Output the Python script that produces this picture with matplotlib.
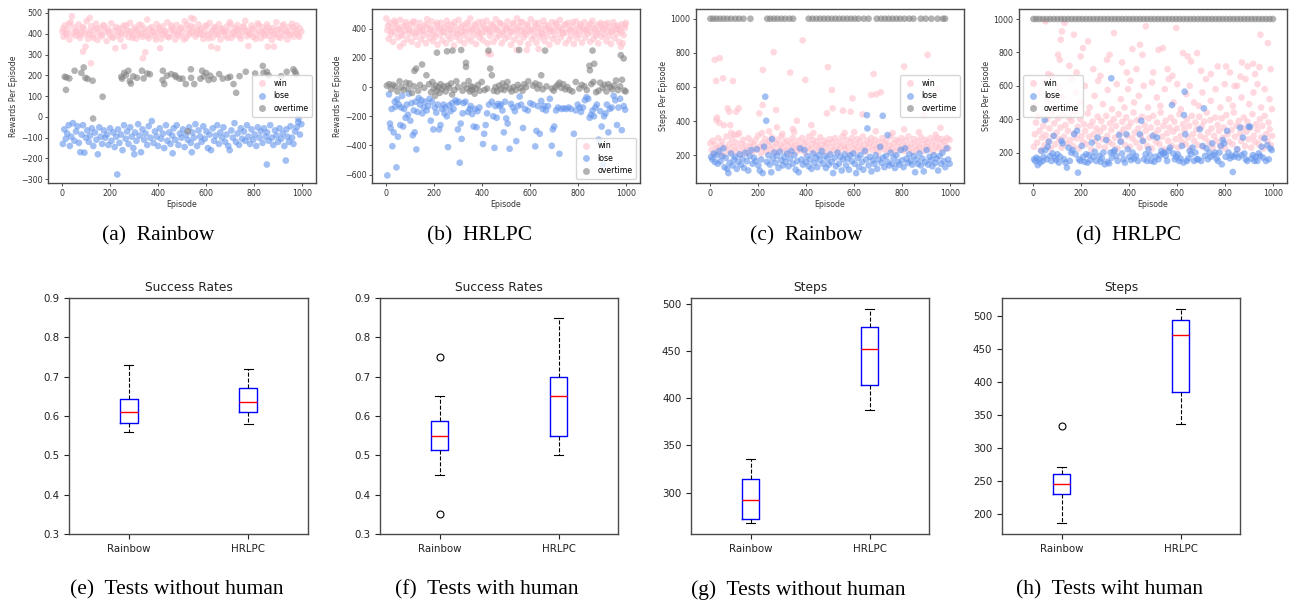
import matplotlib
matplotlib.use("Agg")
import matplotlib.pyplot as plt
from matplotlib.lines import Line2D

# ---------------- data: scatter panels (episode, value) ----------------
a_win = [(0,410),(5,385),(11,440),(18,395),(22,420),(30,372),(35,455),(43,400),(49,430),(55,390),(62,415),(68,445),(74,380),(81,405),(88,425),(93,398),(101,460),(107,375),(113,412),(120,436),(126,392),(133,418),(140,448),(146,370),(152,402),(158,428),(165,388),(171,442),(178,410),(185,365),(190,422),(197,396),(204,450),(211,380),(217,414),(224,433),(230,390),(237,405),(243,372),(250,426),(256,440),(262,398),(269,418),(276,384),(282,452),(289,406),(295,393),(301,430),(308,376),(315,415),(321,444),(328,400),(334,385),(341,423),(347,409),(354,468),(360,378),(367,395),(373,432),(380,414),(387,388),(393,447),(399,402),(406,420),(412,375),(419,436),(425,410),(432,392),(438,455),(445,383),(451,418),(458,428),(464,400),(471,372),(477,442),(484,412),(490,390),(497,430),(503,405),(510,460),(516,380),(523,422),(529,395),(536,438),(542,410),(549,470),(555,386),(562,415),(568,445),(575,398),(581,425),(588,375),(594,408),(601,436),(607,392),(614,452),(620,404),(627,382),(633,428),(640,415),(646,398),(653,446),(659,372),(666,420),(672,408),(679,390),(685,435),(692,412),(698,456),(705,380),(711,400),(718,428),(724,394),(731,442),(737,418),(744,376),(750,408),(757,432),(763,462),(770,388),(776,415),(783,400),(789,440),(796,385),(802,422),(809,396),(815,450),(822,410),(828,378),(835,432),(841,402),(848,418),(854,445),(861,390),(867,412),(874,370),(880,428),(887,398),(893,455),(900,384),(906,420),(913,406),(919,438),(926,392),(932,415),(939,372),(945,432),(952,400),(958,448),(965,386),(971,418),(978,440),(984,395),(991,425),(997,410),
         (3,425),(15,402),(27,448),(40,484),(58,412),(71,395),(85,432),(97,338),(86,314),(110,400),(114,476),(119,258),(130,380),(143,425),(161,396),(175,436),(193,412),(207,385),(221,330),(234,425),(247,400),(258,338),(266,440),(279,412),(292,380),(305,420),(318,396),(331,440),(336,282),(346,311),(350,390),(363,425),(377,408),(390,372),(403,430),(408,330),(416,398),(428,412),(441,385),(455,440),(468,415),(481,396),(494,425),(507,372),(520,445),(533,405),(537,476),(546,430),(559,400),(572,420),(585,395),(598,440),(611,378),(621,338),(624,415),(637,432),(647,330),(650,395),(663,425),(676,410),(689,380),(702,445),(715,405),(728,420),(741,390),(754,435),(767,412),(776,341),(780,398),(793,425),(806,375),(819,442),(832,408),(845,390),(857,338),(858,430),(871,415),(883,338),(884,395),(897,420),(910,380),(923,445),(936,410),(949,395),(962,430),(975,405),(988,385)]

a_lose = [(2,-130),(8,-60),(14,-105),(20,-80),(26,-40),(31,-140),(37,-95),(44,-30),(50,-115),(57,-70),(63,-45),(69,-125),(75,-170),(80,-85),(86,-40),(92,-172),(98,-100),(104,-65),(110,-120),(116,-90),(123,-55),(129,-140),(136,-75),(142,-110),(148,-180),(154,-50),(160,-95),(166,-130),(173,-65),(179,-100),(186,-85),(192,-135),(199,-55),(205,-115),(212,-75),(218,-145),(225,-95),(229,-277),(232,-60),(238,-125),(245,-85),(251,-160),(257,-40),(264,-105),(270,-70),(276,-130),(283,-50),(289,-95),(296,-150),(300,-180),(303,-75),(309,-115),(316,-35),(322,-90),(328,-170),(334,-60),(341,-110),(347,-80),(354,-135),(360,-45),(367,-100),(373,-20),(380,-125),(386,-70),(393,-95),(399,-140),(406,-55),(412,-105),(419,-80),(425,-150),(432,-40),(438,-115),(445,-75),(451,-130),(458,-90),(460,-175),(464,-55),(471,-110),(477,-40),(484,-135),(490,-80),(497,-100),(503,-60),(510,-145),(516,-85),(523,-110),(529,-50),(536,-125),(540,-170),(542,-75),(549,-100),(555,-35),(562,-140),(568,-65),(575,-95),(581,-120),(588,-45),(594,-105),(601,-70),(607,-150),(614,-85),(620,-160),(627,-55),(633,-115),(640,-90),(646,-40),(653,-130),(659,-75),(666,-100),(672,-50),(679,-120),(685,-85),(692,-140),(698,-160),(705,-65),(711,-100),(718,-30),(724,-120),(731,-80),(737,-135),(744,-55),(750,-105),(757,-70),(763,-115),(770,-40),(776,-95),(783,-130),(789,-60),(796,-110),(802,-85),(809,-140),(815,-50),(822,-100),(828,-70),(835,-125),(841,-55),(848,-95),(853,-229),(854,-75),(861,-115),(867,-40),(874,-100),(880,-135),(887,-65),(893,-90),(900,-120),(906,-55),(913,-105),(919,-80),(926,-140),(932,-210),(934,-60),(939,-95),(945,-120),(952,-45),(958,-100),(964,-130),(971,-70),(978,-50),(984,-25),(985,-8),(991,-85),(997,-35)]

a_over = [(10,193),(17,190),(29,185),(15,130),(51,222),(79,212),(89,238),(96,188),(105,183),(126,174),(128,-8),(168,97),(246,193),(249,184),(258,212),(265,200),(275,222),(281,172),(286,160),(296,195),(311,188),(332,222),(339,185),(354,209),(365,205),(419,222),(418,177),(425,158),(436,198),(454,206),(470,200),(474,192),(488,184),(501,184),(515,158),(523,-69),(536,229),(537,188),(550,158),(576,184),(583,222),(590,195),(600,211),(610,177),(617,198),(631,182),(654,206),(669,184),(690,188),(700,193),(714,158),(725,116),(739,196),(765,217),(804,209),(836,245),(839,212),(853,217),(860,200),(912,196),(936,217),(964,229),(970,218),(975,206)]

b_win = [(0,470),(4,390),(9,330),(14,440),(19,360),(24,405),(28,310),(33,455),(38,375),(43,420),(48,340),(53,395),(56,277),(58,460),(63,350),(68,415),(72,300),(77,385),(82,445),(87,330),(92,400),(97,365),(102,430),(106,310),(111,380),(116,450),(121,345),(126,410),(131,290),(136,375),(140,440),(145,325),(150,395),(155,355),(160,420),(165,300),(170,465),(175,370),(180,335),(184,405),(189,450),(194,315),(199,385),(204,345),(209,425),(214,290),(218,400),(223,360),(228,440),(233,320),(238,380),(243,410),(248,300),(252,455),(257,350),(262,395),(267,330),(272,430),(277,370),(282,285),(286,415),(291,345),(296,390),(301,460),(306,320),(311,375),(316,425),(320,355),(325,300),(330,400),(335,440),(340,335),(345,380),(350,470),(354,315),(359,395),(364,355),(369,430),(374,295),(379,385),(384,445),(388,340),(393,405),(398,365),(403,320),(408,420),(413,380),(418,455),(422,300),(424,231),(427,395),(432,350),(435,224),(437,430),(442,375),(447,310),(452,410),(456,465),(461,340),(466,390),(471,355),(476,435),(481,300),(486,380),(490,420),(495,330),(500,395),(505,450),(510,345),(515,405),(520,290),(524,375),(529,440),(534,325),(539,390),(544,254),(545,470),(549,355),(554,415),(558,305),(563,385),(568,445),(573,340),(578,400),(583,360),(586,254),(588,430),(592,295),(597,380),(602,465),(607,330),(612,395),(617,350),(622,425),(626,305),(631,375),(635,261),(636,440),(641,340),(646,400),(651,360),(656,455),(660,315),(665,390),(670,350),(675,420),(680,290),(685,380),(690,445),(694,330),(699,400),(704,355),(709,430),(714,310),(719,385),(724,460),(728,340),(733,395),(738,365),(743,425),(748,300),(753,375),(758,440),(762,325),(767,390),(772,350),(777,415),(782,295),(787,380),(792,450),(796,335),(801,405),(806,360),(811,430),(816,305),(821,385),(826,445),(830,340),(835,400),(840,365),(845,420),(850,310),(855,375),(860,455),(864,330),(869,395),(874,350),(879,425),(884,300),(889,385),(894,440),(898,345),(903,405),(908,360),(913,430),(918,315),(923,390),(928,350),(932,415),(937,295),(942,380),(947,445),(952,335),(957,400),(962,365),(966,420),(971,310),(976,390),(978,277),(981,430),(986,300),(990,355),(995,405),(999,440),
         (7,420),(21,380),(36,440),(50,400),(66,365),(80,425),(95,390),(110,445),(124,370),(139,410),(153,385),(168,430),(182,395),(197,360),(211,440),(226,400),(240,375),(255,425),(269,390),(284,445),(298,365),(313,410),(328,380),(342,430),(357,395),(371,420),(386,370),(400,445),(415,400),(430,385),(444,425),(459,395),(473,440),(488,365),(502,410),(517,380),(531,430),(546,400),(560,445),(575,375),(590,420),(604,390),(619,440),(633,405),(648,370),(662,425),(677,400),(691,385),(706,440),(720,410),(735,375),(749,430),(764,395),(778,445),(793,370),(807,415),(822,400),(836,385),(851,435),(865,405),(880,370),(894,425),(909,395),(923,440),(938,380),(952,420),(967,400),(981,375),(996,425)]

b_lose = [(4,-605),(11,-50),(15,-250),(18,-280),(22,-150),(25,-405),(30,-310),(35,-100),(38,-135),(42,-550),(45,-85),(48,-340),(52,-120),(58,-260),(62,-140),(66,-60),(70,-270),(74,-150),(80,-210),(85,-120),(90,-190),(94,-45),(100,-230),(105,-110),(110,-330),(114,-160),(118,-310),(122,-100),(125,-427),(130,-170),(135,-75),(140,-120),(146,-90),(150,-180),(156,-140),(162,-100),(168,-160),(174,-130),(180,-80),(185,-230),(190,-100),(196,-290),(202,-140),(208,-175),(214,-120),(220,-290),(226,-260),(232,-150),(238,-120),(242,-180),(246,-140),(252,-200),(257,-411),(262,-125),(268,-165),(274,-110),(280,-150),(288,-90),(294,-105),(298,-290),(302,-100),(306,-518),(310,-250),(314,-355),(318,-180),(322,-110),(330,-100),(340,-170),(348,-150),(352,-130),(358,-185),(364,-270),(370,-150),(376,-275),(380,-165),(388,-140),(403,-390),(408,-320),(414,-260),(420,-180),(428,-120),(440,-100),(446,-200),(451,-416),(455,-130),(460,-210),(466,-115),(472,-130),(478,-120),(484,-160),(490,-310),(495,-100),(500,-215),(506,-250),(514,-423),(520,-115),(528,-140),(536,-165),(542,-370),(548,-130),(556,-65),(562,-120),(570,-280),(578,-150),(590,-160),(600,-110),(612,-120),(621,-406),(626,-300),(632,-130),(640,-320),(646,-95),(652,-150),(658,-130),(666,-160),(674,-130),(682,-80),(690,-402),(694,-290),(700,-270),(708,-160),(716,-140),(722,-457),(730,-150),(740,-145),(750,-150),(760,-140),(770,-150),(782,-320),(790,-160),(798,-120),(806,-140),(812,-170),(820,-140),(828,-90),(835,-70),(842,-80),(848,-210),(854,-190),(860,-160),(866,-200),(872,-140),(878,-120),(886,-360),(892,-165),(898,-270),(903,-531),(908,-200),(914,-180),(920,-120),(926,-310),(932,-150),(940,-140),(948,-60),(955,-90),(962,-260),(968,-140),(975,-80),(982,-295),(990,-130),(996,-155)]

b_over = [(2,10),(12,20),(20,-15),(28,15),(37,5),(46,-30),(55,40),(63,0),(72,-20),(82,30),(90,-10),(97,25),(107,-40),(115,5),(133,-25),(140,15),(158,-5),(178,20),(186,-35),(192,35),(198,-10),(203,-60),(206,10),(210,-25),(218,0),(222,-40),(226,20),(232,-15),(240,5),(247,-30),(256,10),(262,-5),(270,25),(284,-20),(292,40),(299,0),(318,-25),(324,15),(338,-10),(343,41),(348,-30),(352,5),(357,-20),(362,0),(368,-45),(374,-10),(382,15),(390,-25),(398,35),(410,-20),(420,-10),(448,-25),(455,0),(463,-30),(470,10),(478,-15),(485,25),(492,-20),(498,5),(505,35),(515,-10),(522,-30),(530,0),(540,-20),(548,15),(560,-5),(568,-25),(575,20),(583,0),(592,40),(612,10),(622,25),(630,-10),(638,15),(652,-15),(668,5),(690,-10),(698,-25),(706,0),(714,15),(722,30),(730,-5),(738,20),(746,-15),(755,0),(764,-20),(776,-30),(790,35),(805,-10),(815,15),(826,5),(836,-20),(855,20),(875,-35),(885,-25),(892,30),(902,-5),(910,15),(918,-30),(926,20),(934,0),(942,-15),(950,10),(958,45),(966,-20),(975,5),(983,50),(993,-23),(998,-30),
          (117,111),(124,127),(149,155),(167,81),(211,236),(253,245),(276,250),(312,254),(332,166),(332,139),(274,-50),(426,250),(433,127),(440,81),(554,254),(646,81),(662,250),(860,250),(847,146),(849,115),(867,160),(978,219),(990,196),(864,35)]

c_win = [(0,270),(5,230),(10,285),(15,205),(21,260),(27,240),(33,300),(38,215),(44,255),(50,280),(56,200),(61,245),(67,310),(73,230),(79,265),(84,215),(90,295),(96,250),(102,225),(107,275),(113,320),(119,240),(125,205),(130,265),(136,290),(142,230),(148,255),(153,210),(159,300),(165,245),(171,275),(176,220),(182,260),(188,290),(194,235),(199,315),(205,250),(211,210),(217,270),(222,240),(228,295),(234,220),(240,260),(245,280),(251,235),(257,305),(263,250),(268,215),(274,270),(280,290),(286,230),(291,260),(297,310),(303,245),(309,275),(314,225),(320,285),(326,250),(332,210),(337,270),(343,300),(349,240),(355,260),(360,220),(366,285),(372,250),(378,230),(383,300),(389,265),(395,215),(401,280),(406,245),(412,310),(418,235),(424,265),(429,290),(435,220),(441,255),(447,280),(452,240),(458,305),(464,260),(470,225),(475,285),(481,250),(487,270),(493,215),(498,295),(504,245),(510,275),(516,230),(521,300),(527,255),(533,220),(539,280),(544,245),(550,310),(556,260),(562,235),(567,290),(573,250),(579,215),(585,275),(590,300),(596,240),(602,265),(608,225),(613,295),(619,250),(625,280),(631,235),(636,310),(642,260),(648,220),(654,285),(659,245),(665,270),(671,300),(677,230),(682,260),(688,290),(694,240),(700,215),(705,275),(711,250),(717,300),(723,235),(728,265),(734,285),(740,225),(746,255),(751,310),(757,240),(763,270),(769,220),(774,290),(780,250),(786,280),(792,235),(797,300),(803,260),(809,225),(815,285),(820,250),(826,310),(832,240),(838,270),(843,220),(849,295),(855,255),(861,230),(866,280),(872,245),(878,305),(884,265),(889,225),(895,290),(901,250),(907,275),(912,235),(918,300),(924,260),(930,220),(935,285),(941,250),(947,300),(953,240),(958,270),(964,295),(970,230),(976,280),(981,255),(987,300),(993,240),(998,290),
         (18,759),(24,635),(39,769),(53,651),(94,635),(25,406),(28,420),(37,390),(56,376),(72,475),(79,455),(83,376),(108,455),(118,475),(87,331),(204,445),(218,494),(219,700),(264,804),(274,465),(278,363),(333,684),(344,353),(361,402),(385,873),(396,641),(421,376),(486,445),(490,716),(507,582),(510,475),(553,461),(585,455),(593,533),(635,439),(681,676),(671,553),(692,557),(711,569),(808,720),(808,351),(892,435),(906,788),(947,586),(960,360),(100,320),(120,330),(215,330),(245,340),(300,325),(350,335),(430,330),(560,330),(600,335),(690,340),(760,330),(870,335),(940,320)]

c_lose = [(3,190),(8,175),(14,210),(19,160),(25,200),(31,150),(36,225),(42,165),(48,195),(54,240),(59,130),(64,185),(70,120),(75,95),(80,155),(86,210),(92,140),(98,175),(104,190),(110,120),(116,160),(122,205),(128,145),(134,180),(140,125),(146,215),(152,165),(158,110),(164,195),(170,230),(176,150),(182,185),(188,165),(194,235),(200,140),(206,110),(212,175),(218,95),(224,250),(229,543),(233,402),(236,160),(242,200),(248,145),(254,100),(257,294),(260,180),(266,215),(272,155),(278,195),(284,125),(290,220),(296,170),(302,140),(308,190),(314,160),(320,210),(326,135),(332,180),(338,225),(344,150),(350,200),(356,115),(362,165),(368,100),(374,240),(380,175),(386,145),(392,230),(398,160),(404,195),(410,135),(416,175),(422,120),(428,210),(434,155),(440,185),(446,130),(452,200),(458,170),(464,225),(470,150),(476,195),(482,125),(488,180),(494,145),(500,205),(506,160),(512,95),(518,185),(524,135),(530,215),(536,150),(542,190),(548,110),(554,175),(560,205),(566,140),(572,180),(578,115),(584,200),(590,165),(596,210),(602,150),(608,95),(614,185),(620,130),(626,200),(632,160),(638,115),(644,225),(650,175),(653,435),(655,357),(660,140),(666,190),(672,105),(678,170),(684,150),(690,200),(696,120),(702,175),(708,249),(714,155),(719,431),(720,185),(726,130),(732,195),(739,318),(740,160),(746,140),(752,215),(758,150),(764,185),(770,125),(776,200),(782,160),(788,145),(794,230),(800,170),(806,130),(812,240),(818,180),(824,155),(830,205),(836,165),(842,145),(848,195),(854,100),(860,175),(866,150),(872,210),(878,140),(884,180),(890,105),(896,160),(902,230),(908,145),(914,190),(920,170),(926,135),(932,200),(938,155),(944,180),(950,110),(956,195),(962,150),(968,215),(974,165),(980,130),(986,240),(992,175),(998,150)]

c_over_episodes = [0,12,25,40,55,70,86,104,120,138,167,237,250,265,280,296,312,330,345,410,426,442,458,474,490,506,522,538,554,570,586,602,618,640,660,694,712,728,744,760,776,792,810,830,847,878,898,922,948,970,979]

d_win = [(2,235),(6,310),(11,380),(16,260),(21,420),(26,330),(31,215),(36,290),(41,360),(46,245),(51,305),(57,400),(62,270),(67,345),(72,225),(77,440),(82,300),(87,375),(92,250),(97,320),(103,405),(108,280),(113,350),(118,230),(123,425),(128,295),(134,365),(139,255),(144,330),(149,410),(154,275),(159,390),(165,240),(170,315),(175,445),(180,285),(185,355),(190,225),(196,400),(201,300),(206,265),(211,370),(216,330),(221,250),(227,435),(232,295),(237,360),(242,220),(247,385),(252,310),(258,270),(263,345),(268,415),(273,240),(278,325),(283,390),(289,280),(294,350),(299,230),(304,420),(309,300),(314,265),(320,375),(325,335),(330,250),(335,400),(340,290),(345,360),(351,225),(356,430),(361,315),(366,270),(371,385),(376,340),(382,245),(387,410),(392,300),(397,355),(402,235),(407,380),(413,285),(418,440),(423,320),(428,260),(433,395),(438,345),(444,230),(449,300),(454,415),(459,270),(464,365),(469,330),(475,240),(480,405),(485,290),(490,350),(495,225),(500,420),(506,310),(511,265),(516,380),(521,335),(526,250),(531,440),(537,295),(542,360),(547,220),(552,390),(557,315),(562,270),(568,350),(573,410),(578,240),(583,325),(588,385),(593,280),(599,345),(604,230),(609,430),(614,300),(619,265),(624,370),(630,335),(635,250),(640,400),(645,290),(650,360),(655,225),(661,420),(666,310),(671,270),(676,380),(681,340),(686,245),(692,415),(697,300),(702,355),(707,235),(712,385),(717,285),(723,440),(728,320),(733,260),(738,395),(743,345),(748,230),(754,300),(759,410),(764,270),(769,365),(774,330),(779,240),(785,405),(790,290),(795,350),(800,225),(805,425),(810,310),(816,265),(821,380),(826,335),(831,250),(836,440),(841,295),(847,360),(852,220),(857,390),(862,315),(867,270),(872,350),(878,410),(883,240),(888,325),(893,385),(898,280),(903,345),(909,230),(914,430),(919,300),(924,265),(929,370),(934,335),(940,250),(945,400),(950,290),(955,360),(960,225),(965,420),(971,310),(976,270),(981,380),(986,340),(991,245),(996,300),
         (8,480),(30,560),(45,620),(60,510),(75,660),(90,470),(105,590),(120,535),(140,480),(160,640),(178,560),(195,500),(215,600),(235,470),(255,540),(270,630),(290,490),(310,575),(328,460),(348,610),(365,520),(380,470),(395,580),(405,630),(420,500),(440,540),(460,600),(478,470),(495,620),(515,530),(530,480),(548,580),(565,640),(585,500),(600,610),(615,460),(638,550),(652,600),(670,500),(690,480),(705,560),(720,640),(740,510),(760,580),(780,470),(798,610),(815,520),(832,480),(850,600),(868,530),(885,640),(900,490),(918,560),(935,610),(950,470),(965,580),(985,520),(995,460),
         (51,986),(130,976),(119,926),(114,876),(169,906),(228,866),(103,786),(110,756),(207,826),(197,776),(336,916),(307,756),(318,786),(469,956),(596,946),(445,846),(413,820),(522,816),(540,826),(455,786),(624,796),(683,796),(644,776),(658,746),(947,906),(978,856),(917,732),(943,712),(894,716),(804,716),(769,716),(839,599),(864,655),(62,670),(150,720),(180,680),(250,700),(280,660),(370,740),(390,680),(430,700),(500,680),(560,700),(580,660),(700,690),(740,670),(820,680),(870,740),(925,670),(990,700)]

d_lose = [(3,160),(8,150),(13,170),(18,125),(23,160),(28,140),(33,210),(38,150),(43,175),(47,395),(50,215),(55,160),(60,235),(65,265),(70,180),(75,150),(80,195),(85,300),(90,170),(95,155),(100,190),(106,140),(112,175),(117,270),(122,255),(128,160),(134,140),(140,110),(146,230),(152,150),(158,200),(164,215),(170,310),(176,190),(182,330),(186,80),(190,160),(196,150),(202,240),(208,175),(214,145),(220,190),(226,140),(232,185),(238,155),(244,260),(250,175),(256,205),(262,150),(268,290),(274,180),(280,145),(286,165),(292,200),(298,130),(304,275),(310,145),(316,135),(322,200),(325,645),(328,170),(334,205),(340,215),(346,180),(352,150),(358,305),(364,265),(370,195),(376,160),(382,140),(388,310),(394,220),(400,175),(408,155),(414,200),(420,165),(428,180),(436,150),(444,310),(450,391),(456,270),(462,160),(468,190),(474,150),(480,220),(486,185),(492,150),(498,300),(504,145),(510,175),(516,290),(522,160),(528,185),(534,210),(540,195),(546,200),(552,180),(558,150),(564,210),(570,230),(578,485),(584,195),(590,160),(596,175),(602,190),(608,150),(614,165),(620,240),(626,140),(628,425),(631,565),(634,310),(640,150),(646,165),(652,210),(658,190),(664,230),(670,150),(676,200),(682,160),(688,160),(694,340),(700,150),(706,240),(711,465),(716,180),(722,225),(728,160),(734,200),(740,175),(746,255),(752,185),(758,200),(764,165),(770,150),(776,200),(782,240),(786,130),(790,275),(796,255),(802,175),(808,330),(814,200),(820,165),(826,180),(832,84),(838,175),(844,190),(850,220),(856,170),(862,350),(868,185),(874,290),(880,195),(886,160),(892,150),(898,355),(904,355),(910,165),(916,185),(922,150),(928,175),(934,150),(940,195),(946,180),(952,235),(958,170),(964,285),(970,150),(976,245),(982,160),(988,225),(994,215)]

d_over_episodes = [0,12,25,40,55,70,85,100,115,130,145,160,175,190,205,220,235,250,265,280,295,310,325,340,355,370,385,400,415,430,445,460,475,490,505,520,535,550,565,580,595,610,625,640,655,670,685,700,715,730,745,760,775,790,805,820,835,850,865,880,895,910,925,940,955,970,985,999]
overtime_steps = 1000

# ---------------- data: box plot statistics ----------------
methods = ["Rainbow", "HRLPC"]
# (whislo, q1, med, q3, whishi, fliers)
e_stats = [(0.56, 0.583, 0.61, 0.642, 0.73, []), (0.58, 0.61, 0.635, 0.672, 0.72, [])]
f_stats = [(0.45, 0.513, 0.55, 0.588, 0.65, [0.75, 0.35]), (0.50, 0.55, 0.65, 0.70, 0.85, [])]
g_stats = [(267.5, 272.5, 292.5, 314.0, 335.5, []), (387.0, 414.0, 451.5, 475.5, 494.5, [])]
h_stats = [(186.5, 230.5, 245.5, 261.5, 272.0, [334.0]), (337.0, 385.5, 471.5, 494.5, 511.5, [])]

captions_top = ["(a)  Rainbow", "(b)  HRLPC", "(c)  Rainbow", "(d)  HRLPC"]
captions_bot = ["(e)  Tests without human", "(f)  Tests with human",
                "(g)  Tests without human", "(h)  Tests wiht human"]

# ---------------- figure ----------------
W, H = 1298, 605
fig = plt.figure(figsize=(W / 100, H / 100), dpi=100)
fig.patch.set_facecolor("white")

def px_axes(l, t, r, b):
    return fig.add_axes([l / W, 1 - b / H, (r - l) / W, (b - t) / H])

SPINE = "#4a4a4a"
COL = {"win": "pink", "lose": "cornflowerblue", "overtime": "grey"}
ALPHA = 0.6

def style_axes(ax):
    for s in ax.spines.values():
        s.set_color(SPINE)
        s.set_linewidth(1.0)

def scatter_panel(ax, win, lose, over, ylabel, ylim, legend_loc):
    for name, pts in (("win", win), ("lose", lose), ("overtime", over)):
        xs = [p[0] for p in pts]
        ys = [p[1] for p in pts]
        ax.scatter(xs, ys, s=23, c=COL[name], alpha=ALPHA, edgecolors="none",
                   label=name, zorder=2)
    ax.set_xlim(-60, 1058)
    ax.set_ylim(*ylim)
    ax.set_xticks([0, 200, 400, 600, 800, 1000])
    ax.set_xlabel("Episode", fontsize=5.7, labelpad=1.5, color="#333333")
    ax.set_ylabel(ylabel, fontsize=5.7, labelpad=2, color="#333333")
    ax.tick_params(labelsize=5.7, length=2.5, width=0.6, pad=1.5, colors="#333333")
    style_axes(ax)
    handles = [Line2D([], [], ls="none", marker="o", ms=5, color=COL[n], alpha=ALPHA,
                      mec="none") for n in ("win", "lose", "overtime")]
    ax.legend(handles, ["win", "lose", "overtime"], loc=legend_loc, fontsize=5.7,
              frameon=True, framealpha=0.8, edgecolor="#cccccc", handletextpad=0.6,
              borderpad=0.45, labelspacing=0.45, handlelength=1.6)

ax_a = px_axes(48, 9, 316, 183)
scatter_panel(ax_a, a_win, a_lose, a_over, "Rewards Per Episode", (-318, 519), "center right")
ax_a.set_yticks([-300, -200, -100, 0, 100, 200, 300, 400, 500])

ax_b = px_axes(372, 9, 640, 183)
scatter_panel(ax_b, b_win, b_lose, b_over, "Rewards Per Episode", (-657, 535), "lower right")
ax_b.set_yticks([-600, -400, -200, 0, 200, 400])

c_over = [(e, overtime_steps) for e in c_over_episodes]
ax_c = px_axes(696, 9, 964, 183)
scatter_panel(ax_c, c_win, c_lose, c_over, "Steps Per Episode", (37, 1057), "center right")
ax_c.set_yticks([200, 400, 600, 800, 1000])

d_over = [(e, overtime_steps) for e in d_over_episodes]
ax_d = px_axes(1019, 9, 1287, 183)
scatter_panel(ax_d, d_win, d_lose, d_over, "Steps Per Episode", (18, 1060), "center left")
ax_d.set_yticks([200, 400, 600, 800, 1000])

def box_panel(ax, stats, title, ylim=None):
    bxp_stats = []
    for lbl, (lo, q1, med, q3, hi, fl) in zip(methods, stats):
        bxp_stats.append(dict(label=lbl, whislo=lo, q1=q1, med=med, q3=q3,
                              whishi=hi, fliers=fl))
    ax.bxp(bxp_stats, widths=0.15,
           boxprops=dict(color="blue", linewidth=1.0),
           medianprops=dict(color="red", linewidth=1.0),
           whiskerprops=dict(color="black", linestyle="--", linewidth=0.8),
           capprops=dict(color="black", linewidth=0.8),
           flierprops=dict(marker="o", markerfacecolor="none", markeredgecolor="black",
                           markersize=5, markeredgewidth=0.8))
    if ylim is not None:
        ax.set_ylim(*ylim)
    ax.set_title(title, fontsize=8.8, pad=5, color="#222222")
    ax.tick_params(labelsize=7.4, length=3.5, width=0.8, colors="#222222")
    style_axes(ax)

ax_e = px_axes(69, 298, 308, 534)
box_panel(ax_e, e_stats, "Success Rates", (0.3, 0.9))
ax_f = px_axes(380, 298, 618, 534)
box_panel(ax_f, f_stats, "Success Rates", (0.3, 0.9))
ax_g = px_axes(691, 298, 929, 534)
box_panel(ax_g, g_stats, "Steps")
ax_h = px_axes(1002, 298, 1240, 534)
box_panel(ax_h, h_stats, "Steps")

serif = ["Liberation Serif", "DejaVu Serif"]
for xc, txt in zip([158, 480, 806, 1129], captions_top):
    fig.text(xc / W, 1 - 236 / H, txt, ha="center", va="center", fontsize=15.5, family=serif)
for xc, txt in zip([177, 487, 798, 1110], captions_bot):
    fig.text(xc / W, 1 - 590 / H, txt, ha="center", va="center", fontsize=15.5, family=serif)

fig.savefig("out.png", dpi=100, facecolor="white")
